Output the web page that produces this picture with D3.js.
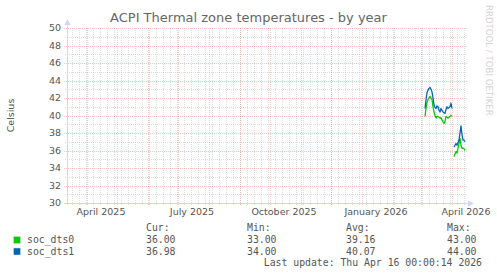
<!DOCTYPE html>
<html>
<head>
<meta charset="utf-8">
<script src="https://cdn.jsdelivr.net/npm/d3@7"></script>
<style>
  body { margin: 0; background: #fff; }
  svg { display: block; }
</style>
</head>
<body>
<div id="chart"></div>
<script>
// chart texts
const title = "ACPI Thermal zone temperatures - by year";
const yTitle = "Celsius";
const watermark = "RRDTOOL / TOBI OETIKER";
const lastUpdate = "Last update: Thu Apr 16 00:00:14 2026";

// time span: 400 days ending at last update
const endTime = new Date(Date.UTC(2026, 3, 16, 0, 0, 14));
const spanDays = 400;

// daily averages from 2026-03-05 (null = no data)
const firstDay = new Date(Date.UTC(2026, 2, 5));
const soc_dts0 = [
  39.9, 40.8, 41.5, 41.8, 42.0, 42.2, 42.0, 41.8, 41.0, 40.4,
  40.0, 39.7, 39.9, 39.9, 39.8, 39.7, 39.75, 39.5, 39.3, 39.1,
  39.3, 39.9, 39.8, 39.7, 39.8, 39.9, 40.0, 39.9, null,
  35.3, 35.6, 35.9, 35.7, 36.25, 36.8, 37.4, 36.6, 36.25, 36.3, 36.2, 36.0
];
const soc_dts1 = [
  40.8, 41.8, 42.6, 42.9, 43.1, 43.2, 43.0, 42.7, 42.0, 41.2,
  40.9, 40.8, 41.1, 41.0, 40.6, 40.4, 40.8, 40.6, 40.4, 40.3,
  40.25, 40.7, 41.0, 40.8, 40.9, 41.0, 41.4, 40.8, null,
  36.4, 36.6, 36.8, 36.6, 36.9, 37.2, 38.0, 38.8, 37.8, 37.2, 37.2, 37.0
];

const seriesNames = ["soc_dts0", "soc_dts1"];
const seriesColors = ["#00cc00", "#0066b3"];
const statHeads = ["Cur:", "Min:", "Avg:", "Max:"];
const stats0 = ["36.00", "33.00", "39.16", "43.00"];
const stats1 = ["36.98", "34.00", "40.07", "44.00"];

const xLabelDates = [
  new Date(Date.UTC(2025, 3, 15)), new Date(Date.UTC(2025, 6, 15)),
  new Date(Date.UTC(2025, 9, 15)), new Date(Date.UTC(2026, 0, 15)),
  new Date(Date.UTC(2026, 3, 15))
];
const xLabels = ["April 2025", "July 2025", "October 2025", "January 2026", "April 2026"];
const yDomain = [30, 50];

// layout
const W = 497, H = 276;
const plotL = 67, plotR = 467, plotT = 28, plotB = 203;
const sans = "DejaVu Sans, sans-serif";
const mono = "DejaVu Sans Mono, monospace";
const fontColor = "#555";
const axisColor = "#cfd6f8";
const minorGrid = "rgba(150,150,150,0.32)";
const majorGrid = "rgba(235,90,90,0.32)";

const startTime = d3.utcDay.offset(endTime, -spanDays);
const x = d3.scaleUtc().domain([startTime, endTime]).range([plotL, plotR]);
const y = d3.scaleLinear().domain(yDomain).range([plotB, plotT]);

const svg = d3.select("#chart").append("svg")
  .attr("width", W).attr("height", H)
  .style("background", "#fff");

// minor grid
const grid = svg.append("g").attr("shape-rendering", "crispEdges");
const weeks = d3.utcMonday.range(startTime, endTime);
grid.selectAll("line.vmin").data(weeks).join("line")
  .attr("x1", d => Math.round(x(d)) + 0.5).attr("x2", d => Math.round(x(d)) + 0.5)
  .attr("y1", plotT).attr("y2", plotB + 2)
  .attr("stroke", minorGrid).attr("stroke-dasharray", "1,1");
grid.selectAll("line.hmin").data(d3.range(yDomain[0] + 1, yDomain[1], 2)).join("line")
  .attr("x1", plotL - 2).attr("x2", plotR)
  .attr("y1", d => Math.round(y(d)) + 0.5).attr("y2", d => Math.round(y(d)) + 0.5)
  .attr("stroke", minorGrid).attr("stroke-dasharray", "1,1");

// major grid
const months = d3.utcMonth.range(startTime, endTime);
grid.selectAll("line.vmaj").data(months).join("line")
  .attr("x1", d => Math.round(x(d)) + 0.5).attr("x2", d => Math.round(x(d)) + 0.5)
  .attr("y1", plotT).attr("y2", plotB + 3)
  .attr("stroke", majorGrid).attr("stroke-dasharray", "1,1");
grid.selectAll("line.hmaj").data(d3.range(yDomain[0], yDomain[1] + 1, 2)).join("line")
  .attr("x1", plotL - 3).attr("x2", plotR)
  .attr("y1", d => Math.round(y(d)) + 0.5).attr("y2", d => Math.round(y(d)) + 0.5)
  .attr("stroke", majorGrid).attr("stroke-dasharray", "1,1");

// y tick labels
svg.append("g").selectAll("text").data(d3.range(yDomain[0], yDomain[1] + 1, 2)).join("text")
  .attr("x", plotL - 6).attr("y", d => y(d)).attr("dy", "0.35em")
  .attr("text-anchor", "end")
  .attr("font-family", sans).attr("font-size", 9.5).attr("fill", fontColor)
  .text(d => d);

// x tick labels
svg.append("g").selectAll("text").data(xLabelDates).join("text")
  .attr("x", d => x(d)).attr("y", 215)
  .attr("text-anchor", "middle")
  .attr("font-family", sans).attr("font-size", 9.5).attr("fill", fontColor)
  .text((d, i) => xLabels[i]);

// axes and arrows
svg.append("line").attr("x1", plotL - 2).attr("x2", plotR + 2)
  .attr("y1", plotB + 0.5).attr("y2", plotB + 0.5).attr("stroke", axisColor);
svg.append("line").attr("x1", plotL + 0.5).attr("x2", plotL + 0.5)
  .attr("y1", plotB + 2).attr("y2", plotT - 4).attr("stroke", axisColor);
svg.append("path").attr("d", `M${plotL - 2.5},${plotT - 3} L${plotL + 3.5},${plotT - 3} L${plotL + 0.5},${plotT - 9} Z`)
  .attr("fill", axisColor);
svg.append("path").attr("d", `M${plotR + 1},${plotB - 2.5} L${plotR + 1},${plotB + 3.5} L${plotR + 7},${plotB + 0.5} Z`)
  .attr("fill", axisColor);

// series lines
const days = soc_dts0.map((v, i) => d3.utcDay.offset(firstDay, i));
const line = d3.line()
  .defined(d => d[1] != null)
  .x(d => x(d[0]))
  .y(d => y(d[1]));
[soc_dts0, soc_dts1].forEach((vals, k) => {
  svg.append("path")
    .datum(vals.map((v, i) => [days[i], v]))
    .attr("d", line)
    .attr("fill", "none")
    .attr("stroke", seriesColors[k])
    .attr("stroke-width", 1.3)
    .attr("stroke-linejoin", "round");
});

// title and side texts
svg.append("text").attr("x", W / 2).attr("y", 22).attr("text-anchor", "middle")
  .attr("font-family", sans).attr("font-size", 13).attr("fill", "#666")
  .text(title);
svg.append("text").attr("transform", `translate(14,${(plotT + plotB) / 2}) rotate(-90)`)
  .attr("text-anchor", "middle")
  .attr("font-family", sans).attr("font-size", 9.5).attr("fill", fontColor)
  .text(yTitle);
svg.append("text").attr("transform", `translate(486,5) rotate(90)`)
  .attr("text-anchor", "start")
  .attr("font-family", sans).attr("font-size", 8.6).attr("fill", "#d4d4d4")
  .text(watermark);

// legend
const statX = [146, 247, 346, 447];
const legend = svg.append("g").attr("font-family", mono).attr("font-size", 9.8).attr("fill", fontColor);
legend.selectAll("text.head").data(statHeads).join("text")
  .attr("x", (d, i) => statX[i]).attr("y", 231).text(d => d);
[stats0, stats1].forEach((stats, k) => {
  const yy = 243 + k * 11.5;
  legend.append("rect").attr("x", 13.5).attr("y", yy - 6.5).attr("width", 7).attr("height", 7)
    .attr("fill", seriesColors[k]).attr("stroke", "#e0e0e0").attr("stroke-width", 0.5);
  legend.append("text").attr("x", 27).attr("y", yy).text(seriesNames[k]);
  legend.selectAll(null).data(stats).join("text")
    .attr("x", (d, i) => statX[i]).attr("y", yy).text(d => d);
});
legend.append("text").attr("x", 482).attr("y", 266).attr("text-anchor", "end").text(lastUpdate);
</script>
</body>
</html>
